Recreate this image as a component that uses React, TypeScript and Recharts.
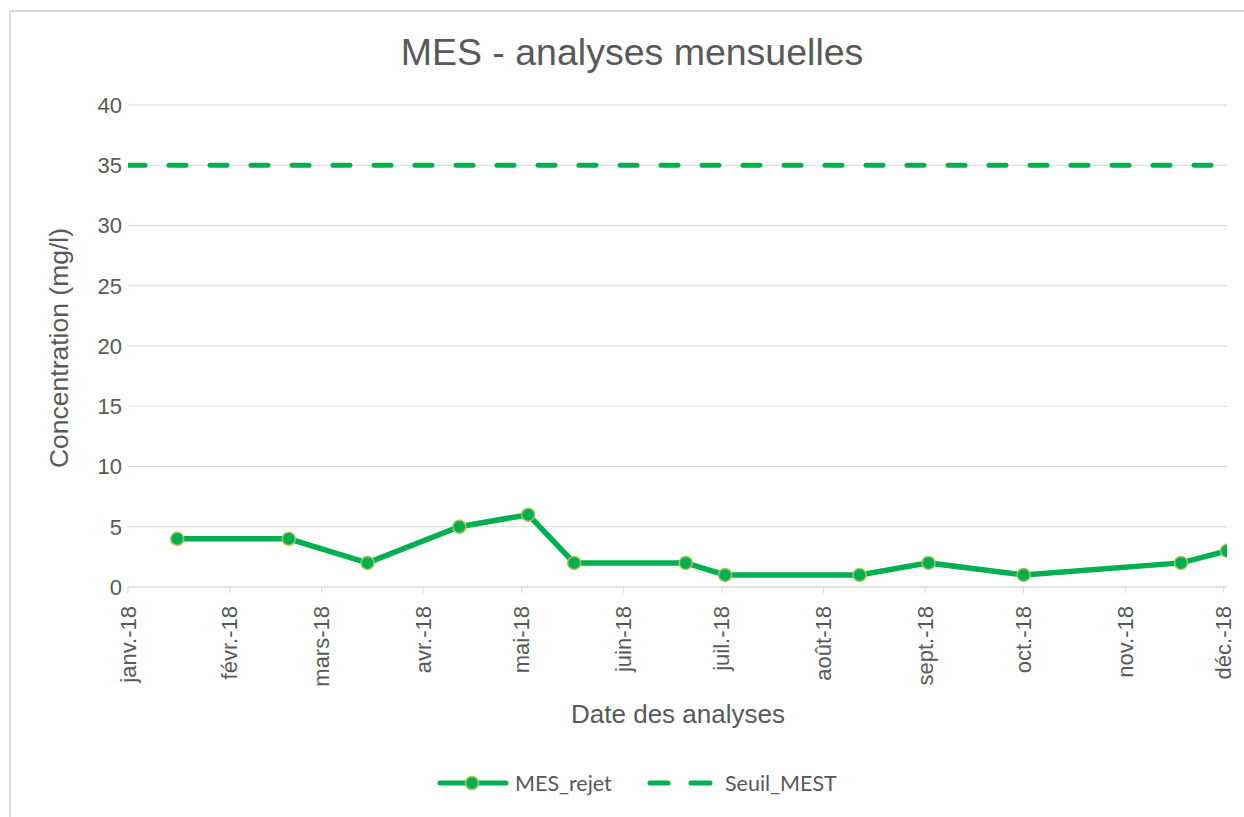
import React from 'react';
import { LineChart, Line, XAxis, YAxis, CartesianGrid } from 'recharts';

// dates d'analyse et résultats MES (mg/l)
const dates = [
  '2018-01-16', '2018-02-19', '2018-03-15', '2018-04-12', '2018-05-03',
  '2018-05-17', '2018-06-20', '2018-07-02', '2018-08-12', '2018-09-02',
  '2018-10-01', '2018-11-18', '2018-12-02',
];
const mesRejet = [4, 4, 2, 5, 6, 2, 2, 1, 1, 2, 1, 2, 3];

// seuil réglementaire
const seuilDates = ['2018-01-01', '2018-12-02'];
const seuilMest = [35, 35];

// graduations de l'axe des dates
const monthTicks = [
  '2018-01-01', '2018-02-01', '2018-03-01', '2018-04-01', '2018-05-01', '2018-06-01',
  '2018-07-01', '2018-08-01', '2018-09-01', '2018-10-01', '2018-11-01', '2018-12-01',
];
const monthLabels = [
  'janv.-18', 'févr.-18', 'mars-18', 'avr.-18', 'mai-18', 'juin-18',
  'juil.-18', 'août-18', 'sept.-18', 'oct.-18', 'nov.-18', 'déc.-18',
];
const yTicks = [0, 5, 10, 15, 20, 25, 30, 35, 40];

const ts = (d: string) => new Date(d).getTime();

const rejetData = dates.map((d, i) => ({ t: ts(d), v: mesRejet[i] }));
const seuilData = seuilDates.map((d, i) => ({ t: ts(d), v: seuilMest[i] }));
const tickValues = monthTicks.map(ts);

const GREEN = '#00b050';
const TEXT = '#595959';
const GRID = '#d9d9d9';
const FONT = "Arial, 'Liberation Sans', sans-serif";

const DateTick = (props: any) => {
  const { x, y, payload } = props;
  const idx = tickValues.indexOf(payload.value);
  return (
    <text
      x={x}
      y={y + 11}
      transform={`rotate(-90, ${x}, ${y + 11})`}
      textAnchor="end"
      dy="0.35em"
      fill={TEXT}
      fontSize={22}
      fontFamily={FONT}
    >
      {monthLabels[idx]}
    </text>
  );
};

const RejetDot = (props: any) => {
  const { cx, cy } = props;
  return <circle cx={cx} cy={cy} r={6.5} fill={GREEN} stroke="#a6c25a" strokeWidth={1.5} />;
};

export default function App() {
  return (
    <div style={{ position: 'absolute', left: 0, top: 0, width: 1244, height: 817, background: '#fff', overflow: 'hidden' }}>
      <div
        style={{
          position: 'absolute',
          left: 9,
          top: 10,
          width: 1240,
          height: 820,
          borderLeft: `2px solid ${GRID}`,
          borderTop: `2px solid ${GRID}`,
        }}
      />
      <div style={{ position: 'absolute', left: 0, top: 0 }}>
        <LineChart width={1244} height={817} margin={{ top: 105, right: 17, left: 68, bottom: 130 }}>
          <CartesianGrid vertical={false} stroke={GRID} strokeWidth={1} />
          <XAxis
            type="number"
            dataKey="t"
            domain={[ts(seuilDates[0]), ts(seuilDates[1])]}
            ticks={tickValues}
            interval={0}
            allowDataOverflow
            height={100}
            stroke={GRID}
            tickSize={6}
            tick={<DateTick />}
          />
          <YAxis
            type="number"
            domain={[0, 40]}
            ticks={yTicks}
            interval={0}
            width={60}
            axisLine={false}
            tickLine={false}
            tickSize={0}
            tickMargin={6}
            tick={{ fill: TEXT, fontSize: 22, fontFamily: FONT }}
          />
          <Line
            data={seuilData}
            dataKey="v"
            stroke={GREEN}
            strokeWidth={5}
            strokeDasharray="17 24"
            strokeLinecap="round"
            dot={false}
            activeDot={false}
            isAnimationActive={false}
          />
          <Line
            data={rejetData}
            dataKey="v"
            stroke={GREEN}
            strokeWidth={5.5}
            dot={<RejetDot />}
            activeDot={false}
            isAnimationActive={false}
          />
        </LineChart>
      </div>
      <svg width={1244} height={817} style={{ position: 'absolute', left: 0, top: 0, pointerEvents: 'none' }}>
        <text x={632} y={65} textAnchor="middle" fill={TEXT} fontSize={37.5} fontFamily={FONT}>
          MES - analyses mensuelles
        </text>
        <text
          x={59}
          y={348}
          transform="rotate(-90, 59, 348)"
          textAnchor="middle"
          dy="0.35em"
          fill={TEXT}
          fontSize={26.5}
          fontFamily={FONT}
        >
          Concentration (mg/l)
        </text>
        <text x={678} y={723} textAnchor="middle" fill={TEXT} fontSize={26} fontFamily={FONT}>
          Date des analyses
        </text>
        <g fontFamily="Lato, sans-serif" fontSize={21.5} fill={TEXT}>
          <line x1={440} y1={783} x2={506} y2={783} stroke={GREEN} strokeWidth={5} strokeLinecap="round" />
          <circle cx={472} cy={783} r={6.5} fill={GREEN} stroke="#a6c25a" strokeWidth={1.5} />
          <text x={515} y={783} dy="0.35em">MES_rejet</text>
          <line x1={650} y1={783} x2={668} y2={783} stroke={GREEN} strokeWidth={5} strokeLinecap="round" />
          <line x1={691} y1={783} x2={710} y2={783} stroke={GREEN} strokeWidth={5} strokeLinecap="round" />
          <text x={725} y={783} dy="0.35em">Seuil_MEST</text>
        </g>
      </svg>
    </div>
  );
}
